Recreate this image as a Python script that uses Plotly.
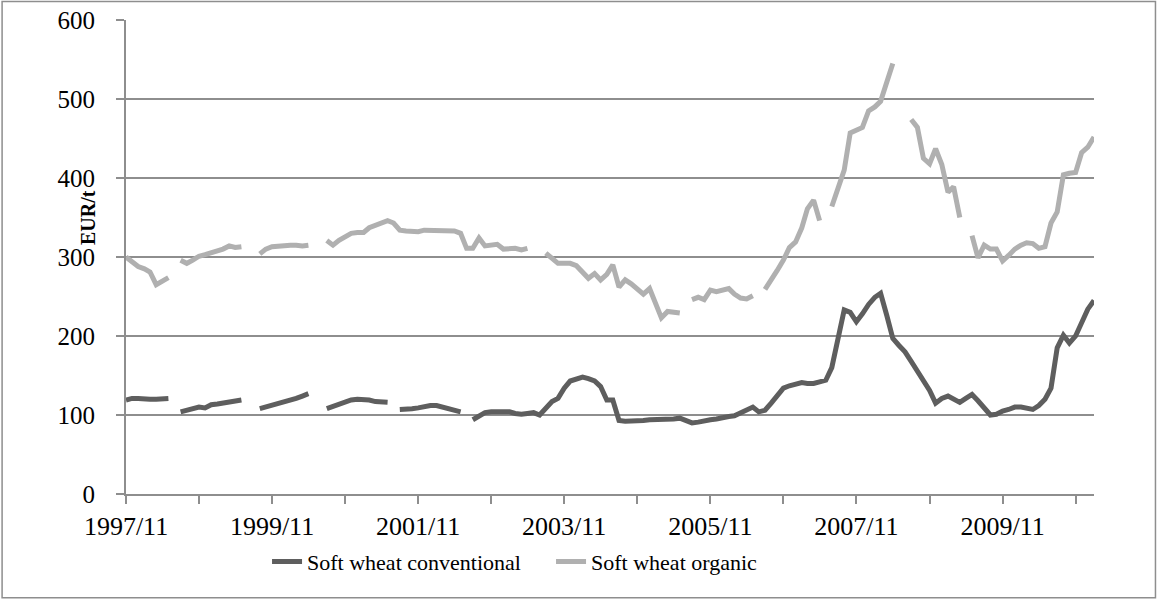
import pandas as pd
import plotly.graph_objects as go

N = None
months = pd.date_range("1997-11-01", periods=160, freq="MS")

conventional = [
    119, 121, 121, 120, 120, 120, 121, 121,
    N,
    104, 106, 108, 110, 109, 113, 114, 115, 116, 117, 119,
    N, N,
    108, 110, 113, 115, 117, 119, 121, 124, 127,
    N, N,
    108, 111, 113, 116, 119, 120, 120, 119, 117, 117, 116,
    N,
    107, 107, 108, 109, 111, 112, 112, 110, 108, 106, 104,
    N,
    94, 99, 103, 104, 104, 104, 104, 102, 101, 102, 103, 100,
    108, 117, 121, 134, 143, 146, 148, 146, 143, 136, 119, 119,
    93, 92, 92, 93, 93, 94, 94, 94, 95, 95, 96, 93,
    90, 91, 93, 94, 95, 97, 98, 99, 103, 106, 110, 104,
    106, 115, 124, 134, 137, 139, 141, 140, 140, 142, 144, 160,
    200, 233, 230, 218, 228, 240, 249, 254, 226, 197, 188, 180,
    168, 156, 143, 131, 115, 121, 124, 120, 116, 121, 126, 118,
    108, 100, 101, 105, 107, 110, 110, 108, 107, 112, 120, 134,
    185, 201, 191, 200, 218, 234, 245,
]

organic = [
    300, 294, 288, 285, 281, 265, 270, 274,
    N,
    296, 292, 296, 301, 303, 305, 308, 310, 314, 312, 313,
    N, N,
    304, 310, 313, 314, 314, 315, 315, 314, 315,
    N, N,
    321, 315, 321, 326, 330, 331, 331, 337, 340, 342, 346, 343,
    334, 333, 333, 332, 334, 334, 334, 334, 334, 333, 330, 311,
    311, 324, 314, 315, 316, 310, 311, 311, 309, 311,
    N, N,
    305, 298, 292, 292, 292, 289, 281, 273, 279, 271, 278, 290,
    262, 271, 266, 260, 253, 260, 241, 223, 231, 230, 229,
    N,
    246, 249, 246, 258, 256, 258, 260, 253, 248, 247, 251,
    N,
    259, 270, 283, 296, 312, 319, 337, 361, 372, 346,
    N,
    364, 385, 410, 457, 460, 464, 485, 490, 497, 522, 545,
    N, N,
    474, 464, 425, 418, 437, 417, 382, 389, 350,
    N,
    327, 299, 315, 310, 310, 295, 302, 310, 315, 318, 317, 311,
    313, 343, 357, 404, 406, 407, 432, 439, 452,
]

series_names = ["Soft wheat conventional", "Soft wheat organic"]
series_colors = ["#5e5e5e", "#b0b0b0"]
y_title = "EUR/t"

GRID = "#8e8e8e"
FONT = "Liberation Serif, Times New Roman, serif"

fig = go.Figure()
for name, vals, col in zip(series_names, [conventional, organic], series_colors):
    fig.add_trace(go.Scatter(
        x=months, y=vals, mode="lines", name=name,
        line=dict(color=col, width=5),
        connectgaps=False,
    ))

fig.update_layout(
    width=1157, height=600,
    margin=dict(l=126, r=63, t=20, b=106),
    paper_bgcolor="white", plot_bgcolor="white",
    font=dict(family=FONT, color="black", size=22),
    showlegend=True,
    legend=dict(orientation="h", x=0.1457, xanchor="left", y=-0.143, yanchor="middle",
                font=dict(size=22, family=FONT), entrywidth=239, entrywidthmode="pixels",
                tracegroupgap=0),
    xaxis=dict(
        type="date", automargin=False,
        range=["1997-11-01", "2011-02-01"],
        tick0="1997-11-01", dtick="M24", tickformat="%Y/%m",
        ticks="outside", ticklen=8, tickwidth=2, tickcolor=GRID,
        showline=True, linecolor=GRID, linewidth=2,
        showgrid=False, zeroline=False,
        tickfont=dict(size=26, family=FONT),
        minor=dict(dtick="M12", tick0="1997-11-01", ticks="outside", ticklen=8,
                   tickwidth=2, tickcolor=GRID, showgrid=False),
    ),
    yaxis=dict(
        range=[0, 600], dtick=100, tick0=0, automargin=False,
        ticks="outside", ticklen=8, tickwidth=2, tickcolor=GRID,
        showline=True, linecolor=GRID, linewidth=2,
        showgrid=True, gridcolor=GRID, gridwidth=2,
        zeroline=False,
        tickfont=dict(size=25, family=FONT),
        ticklabelstandoff=16,
    ),
    annotations=[dict(text="<b>" + y_title + "</b>", xref="paper", yref="paper",
                      x=(88 - 126) / 968, y=(494 - 218) / 474, xanchor="center", yanchor="middle",
                      textangle=-90, showarrow=False, font=dict(size=20, family=FONT))],
    shapes=[dict(type="rect", xref="paper", yref="paper",
                 x0=-0.128, x1=1.0635, y0=-0.219, y1=1.039,
                 line=dict(color=GRID, width=1.5), fillcolor="rgba(0,0,0,0)", layer="below")],
)

fig.write_html("out.html", config={"displayModeBar": False},
               post_script="document.body.style.margin='0';")
